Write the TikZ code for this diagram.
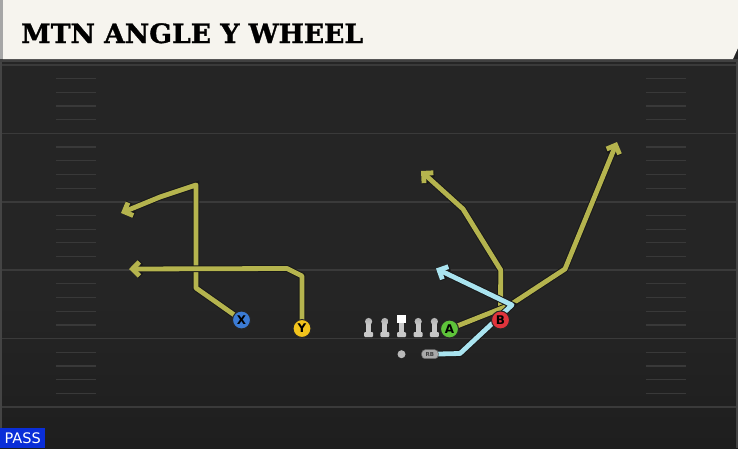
\documentclass[tikz,border=0pt]{standalone}
\usepackage{graphicx}
\usepackage{fontspec}
\setsansfont{DejaVu Sans}
\newfontfamily\titlefont{DejaVu Serif}[FakeBold=1.2]
\usepackage{tikz}
\usetikzlibrary{backgrounds,calc,positioning,arrows.meta}
\definecolor{fieldgray}{HTML}{252525}
\definecolor{fielddark}{HTML}{1E1E1E}
\definecolor{yardgray}{HTML}{3A3A3A}
\definecolor{hashgray}{HTML}{393939}
\definecolor{edgegray}{HTML}{444444}
\definecolor{headercream}{HTML}{F6F4EE}
\definecolor{routeyellow}{HTML}{B5B44E}
\definecolor{routeblue}{HTML}{AAE4F0}
\definecolor{xblue}{HTML}{3B7BD4}
\definecolor{yyellow}{HTML}{F2C41C}
\definecolor{agreen}{HTML}{5EC43A}
\definecolor{bred}{HTML}{E0343C}
\definecolor{olgray}{HTML}{C8C8C8}
\definecolor{rbgray}{HTML}{A9A9A9}
\definecolor{passblue}{HTML}{0A2ED8}

\begin{document}
\begin{tikzpicture}[
  x=1pt, y=-1pt,
  node distance=7.2pt,
  yardstyle/.style={draw=yardgray, line width=1.6pt},
  hashstyle/.style={draw=hashgray, line width=1.2pt},
  routestyle/.style={draw=routeyellow, line width=4.8pt, line join=round,
    preaction={draw=black!90, line width=6.8pt},
    -{Straight Barb[length=7pt, width=14pt]}},
  blueroute/.style={routestyle, draw=routeblue},
  playerstyle/.style={circle, draw=black!85, line width=1pt, minimum size=18pt,
    inner sep=0, font=\sffamily\bfseries\fontsize{12}{12}\selectfont},
  olstyle/.style={inner sep=0, outer sep=0, minimum width=9pt, minimum height=23pt,
    path picture={
      \coordinate (pn) at (path picture bounding box.north);
      \coordinate (ps) at (path picture bounding box.south);
      \fill[olgray] ($(pn)+(-2.5,8)$) rectangle ($(ps)+(2.5,-3)$);
      \shade[top color=gray!60, bottom color=olgray] ($(pn)+(0,7.5)$) circle (3.6pt);
      \fill[olgray, rounded corners=1pt] ($(ps)+(-4.5,-5)$) rectangle ($(ps)+(4.5,0)$);
    }},
  cstyle/.style={inner sep=0, outer sep=0, minimum width=10pt, minimum height=23pt,
    path picture={
      \coordinate (pn) at (path picture bounding box.north);
      \coordinate (ps) at (path picture bounding box.south);
      \fill[white] ($(pn)+(-4.5,0.5)$) rectangle ($(pn)+(4.5,8.5)$);
      \fill[olgray] ($(pn)+(-2.5,8.5)$) rectangle ($(ps)+(2.5,-3)$);
      \fill[olgray, rounded corners=1pt] ($(ps)+(-4.5,-5)$) rectangle ($(ps)+(4.5,0)$);
    }}
]
  \useasboundingbox (0,0) rectangle (738,448);

  % field
  \begin{scope}[on background layer]
    \fill[fieldgray] (0,0) rectangle (738,448);
    \shade[top color=fieldgray, bottom color=fielddark] (0,300) rectangle (738,448);
    \foreach \y in {65,133.4,201.8,270.2,338.6,407}
      \draw[yardstyle] (0,\y) -- (738,\y);
    \foreach \y in {65,133.4,201.8,270.2,338.6}
      \foreach \k in {1,...,4} {
        \draw[hashstyle] (56,\y+\k*13.68) -- (96,\y+\k*13.68);
        \draw[hashstyle] (646,\y+\k*13.68) -- (686,\y+\k*13.68);
      }
    \draw[draw=edgegray, line width=1.5pt] (1,60) -- (1,448);
    \draw[draw=edgegray, line width=1.2pt] (737,60) -- (737,448);
    \fill[black!75] (0,59) rectangle (738,62);
    \fill[headercream] (3,0) -- (738,0) -- (738,48) -- (733,59) -- (3,59) -- cycle;
    \fill[gray!70] (0,0) rectangle (3,59);
  \end{scope}

  \node[anchor=base west, inner sep=0] (TITLE) at (21,43)
    {\resizebox{342pt}{!}{\titlefont\bfseries MTN ANGLE Y WHEEL}};
  \node[anchor=south west, fill=passblue, text=white, inner sep=0,
    minimum width=45pt, minimum height=20pt,
    font=\sffamily\fontsize{14.5}{14.5}\selectfont] (PASS) at (0,448)
    {PASS};

  % line
  \node[cstyle] (C) at (401.5,325.5) {};
  \node[olstyle, left=of C] (LG) {};
  \node[olstyle, left=of LG] (LT) {};
  \node[olstyle, right=of C] (RG) {};
  \node[olstyle, right=of RG] (RT) {};

  \node[circle, fill=gray!55, minimum size=8pt, inner sep=0, below=13pt of C] (QB)
    {};
  \node[fill=rbgray, draw=black!60, line width=0.5pt, rounded corners=3.5pt,
    minimum width=16.6pt, minimum height=9pt, inner sep=0, text=black!75,
    font=\sffamily\bfseries\fontsize{5.5}{5.5}\selectfont, right=15.7pt of QB] (RB)
    {RB};

  \node[playerstyle, fill=xblue] (X) at (241.5,320) {X};
  \node[playerstyle, fill=yyellow] (Y) at (302,328.5) {Y};
  \node[playerstyle, fill=agreen] (A) at (449.5,329) {A};
  \node[playerstyle, fill=bred] (B) at (500.5,320) {B};

  \coordinate (XEND) at (121,213);
  \coordinate (YEND) at (129,269);
  \coordinate (AEND) at (617,142);
  \coordinate (BEND) at (421,171);
  \coordinate (RBEND) at (436,268.5);

  % routes
  \begin{scope}[on background layer]
    \draw[routestyle] (X.center) -- (196,288) -- (196,185) -- (160,197) -- (XEND);
    \draw[routestyle] (Y.center) -- (302,276) -- (287,268.5) -- (YEND);
    \draw[routestyle] (B.center) -- (500.7,270) -- (463,209) -- (BEND);
    \draw[routestyle] (A.center) -- (510,305) -- (565,269) -- (AEND);
    \draw[blueroute] (RB.center) -- (460,353.5) -- (512,305) -- (RBEND);
  \end{scope}
\end{tikzpicture}
\end{document}
